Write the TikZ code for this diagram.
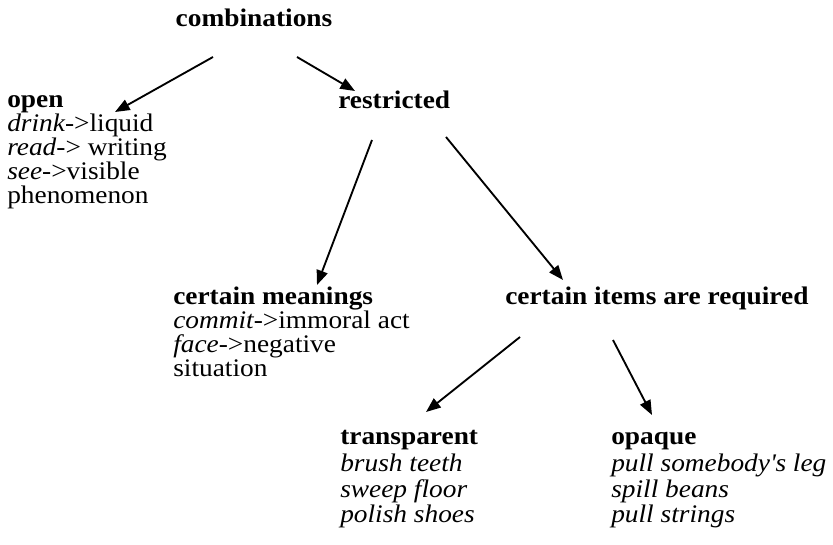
\documentclass[tikz,border=0pt]{standalone}
\usepackage{fontspec}
\setmainfont{Liberation Serif}[FakeStretch=1.08]
\usetikzlibrary{arrows.meta,calc}

\begin{document}
\begin{tikzpicture}[x=0.75pt, y=-0.75pt,
    every node/.style = {inner sep=0pt, align=left, anchor=base west,
      font=\fontsize{19}{18}\selectfont},
    head/.style = {font=\fontsize{19}{18}\selectfont\bfseries},
    wide/.style = {font=\fontsize{19}{19.5}\selectfont},
    link/.style = {line width=1.4pt, -{Triangle[length=11pt,width=8.5pt]}}]
    \useasboundingbox (0,0) rectangle (833,545);
    \node[anchor=base, head] (comb) at (254,27) {combinations};
    \node[head] (open) at (7,108) {open};
    \node (openlist) at ($(open.base west)+(0,96)$) {\textit{drink-}>liquid\\
      \textit{read-}> writing\\ \textit{see-}>visible\\ phenomenon};
    \node[head] (restr) at (338,109) {restricted};
    \node[head] (mean) at (173,305) {certain meanings};
    \node (meanlist) at ($(mean.base west)+(0,72)$) {\textit{commit-}>immoral act\\
      \textit{face-}>negative\\ situation};
    \node[head] (items) at (505,305) {certain items are required};
    \node[head] (transp) at (340,445) {transparent};
    \node[wide] (transplist) at ($(transp.base west)+(0,78)$) {\textit{brush teeth}\\
      \textit{sweep floor}\\ \textit{polish shoes}};
    \node[head] (opaq) at (611,445) {opaque};
    \node[wide] (opaqlist) at ($(opaq.base west)+(0,78)$) {\textit{pull somebody\textquotesingle s leg}\\
      \textit{spill beans}\\ \textit{pull strings}};
    \draw[link] ($(comb.base)+(-41,30)$) -- ($(open.base west)+(108,4)$);
    \draw[link] ($(comb.base)+(43,30)$) -- ($(restr.base west)+(17,-18)$);
    \draw[link] ($(restr.base west)+(34,31)$) -- ($(mean.base west)+(144,-20)$);
    \draw[link] ($(restr.base west)+(108,28)$) -- ($(items.base west)+(58,-25)$);
    \draw[link] ($(items.base west)+(15,32)$) -- ($(transp.base west)+(86,-33)$);
    \draw[link] ($(items.base west)+(108,35)$) -- ($(opaq.base west)+(41,-30)$);
  \end{tikzpicture}
\end{document}
